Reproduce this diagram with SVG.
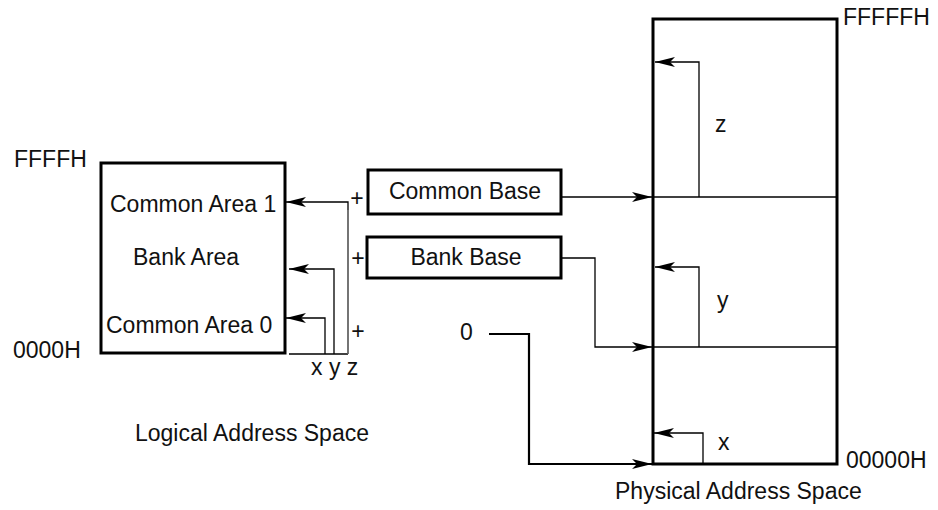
<svg xmlns="http://www.w3.org/2000/svg" width="938" height="510" viewBox="0 0 938 510">
<style>
text{font-family:"Liberation Sans",Arial,sans-serif;font-size:23px;fill:#111}
.box{fill:none;stroke:#000;stroke-width:3}
.ln{fill:none;stroke:#000;stroke-width:1.3}
.thick{fill:none;stroke:#000;stroke-width:2.2}
.gray{fill:none;stroke:#888;stroke-width:1.2}
</style>
<defs>
<marker id="ah" viewBox="0 0 20 10" refX="20" refY="5" markerWidth="20" markerHeight="10" markerUnits="userSpaceOnUse" orient="auto">
<path d="M0,0 L20,5 L0,10 L5,5 z" fill="#000"/>
</marker>
</defs>
<rect width="938" height="510" fill="#fff"/>
<g id="logical">
<rect class="box" x="101" y="163" width="184" height="190"/>
<text x="110" y="212">Common Area 1</text>
<text x="133" y="265">Bank Area</text>
<text x="106" y="333">Common Area 0</text>
<text x="14" y="167">FFFFH</text>
<text x="13" y="358">0000H</text>
<text x="135" y="441">Logical Address Space</text>
</g>
<g id="commonbase">
<rect class="box" x="368" y="170" width="193" height="44"/>
<text x="465" y="199" text-anchor="middle">Common Base</text>
</g>
<g id="bankbase">
<rect class="box" x="367" y="237" width="194" height="41"/>
<text x="466" y="265" text-anchor="middle">Bank Base</text>
</g>
<g id="zero">
<text x="460" y="340">0</text>
</g>
<g id="physical">
<rect class="box" x="653" y="19" width="184" height="445"/>
<text x="843" y="25">FFFFFH</text>
<text x="846" y="468">00000H</text>
<text x="615" y="499">Physical Address Space</text>
<line class="ln" x1="653" y1="197" x2="836" y2="197"/>
<line class="ln" x1="653" y1="347" x2="838" y2="347"/>
<text x="715" y="132">z</text>
<text x="717" y="308">y</text>
<text x="718" y="450">x</text>
</g>
<g id="connectors">
<path class="ln" d="M348,354 V202 H286" marker-end="url(#ah)"/>
<path class="ln" d="M334,354 V269 H289" marker-end="url(#ah)"/>
<path class="ln" d="M325,354 V318 H286" marker-end="url(#ah)"/>
<line class="ln" x1="289" y1="354" x2="348" y2="354"/>
<line class="gray" x1="348" y1="210" x2="348" y2="354"/>
<text x="357" y="206" text-anchor="middle">+</text>
<text x="358" y="266" text-anchor="middle">+</text>
<text x="358" y="339" text-anchor="middle">+</text>
<text x="311" y="375">x y z</text>
<path class="ln" d="M561,197 H652" marker-end="url(#ah)"/>
<path class="ln" d="M561,258 H595 V347 H652" marker-end="url(#ah)"/>
<path class="thick" d="M489,334 H529 V464 H652" marker-end="url(#ah)"/>
<path class="ln" d="M699,197 V62 H655" marker-end="url(#ah)"/>
<path class="ln" d="M699,347 V267 H655" marker-end="url(#ah)"/>
<path class="ln" d="M703,464 V433 H654" marker-end="url(#ah)"/>
</g>
</svg>
